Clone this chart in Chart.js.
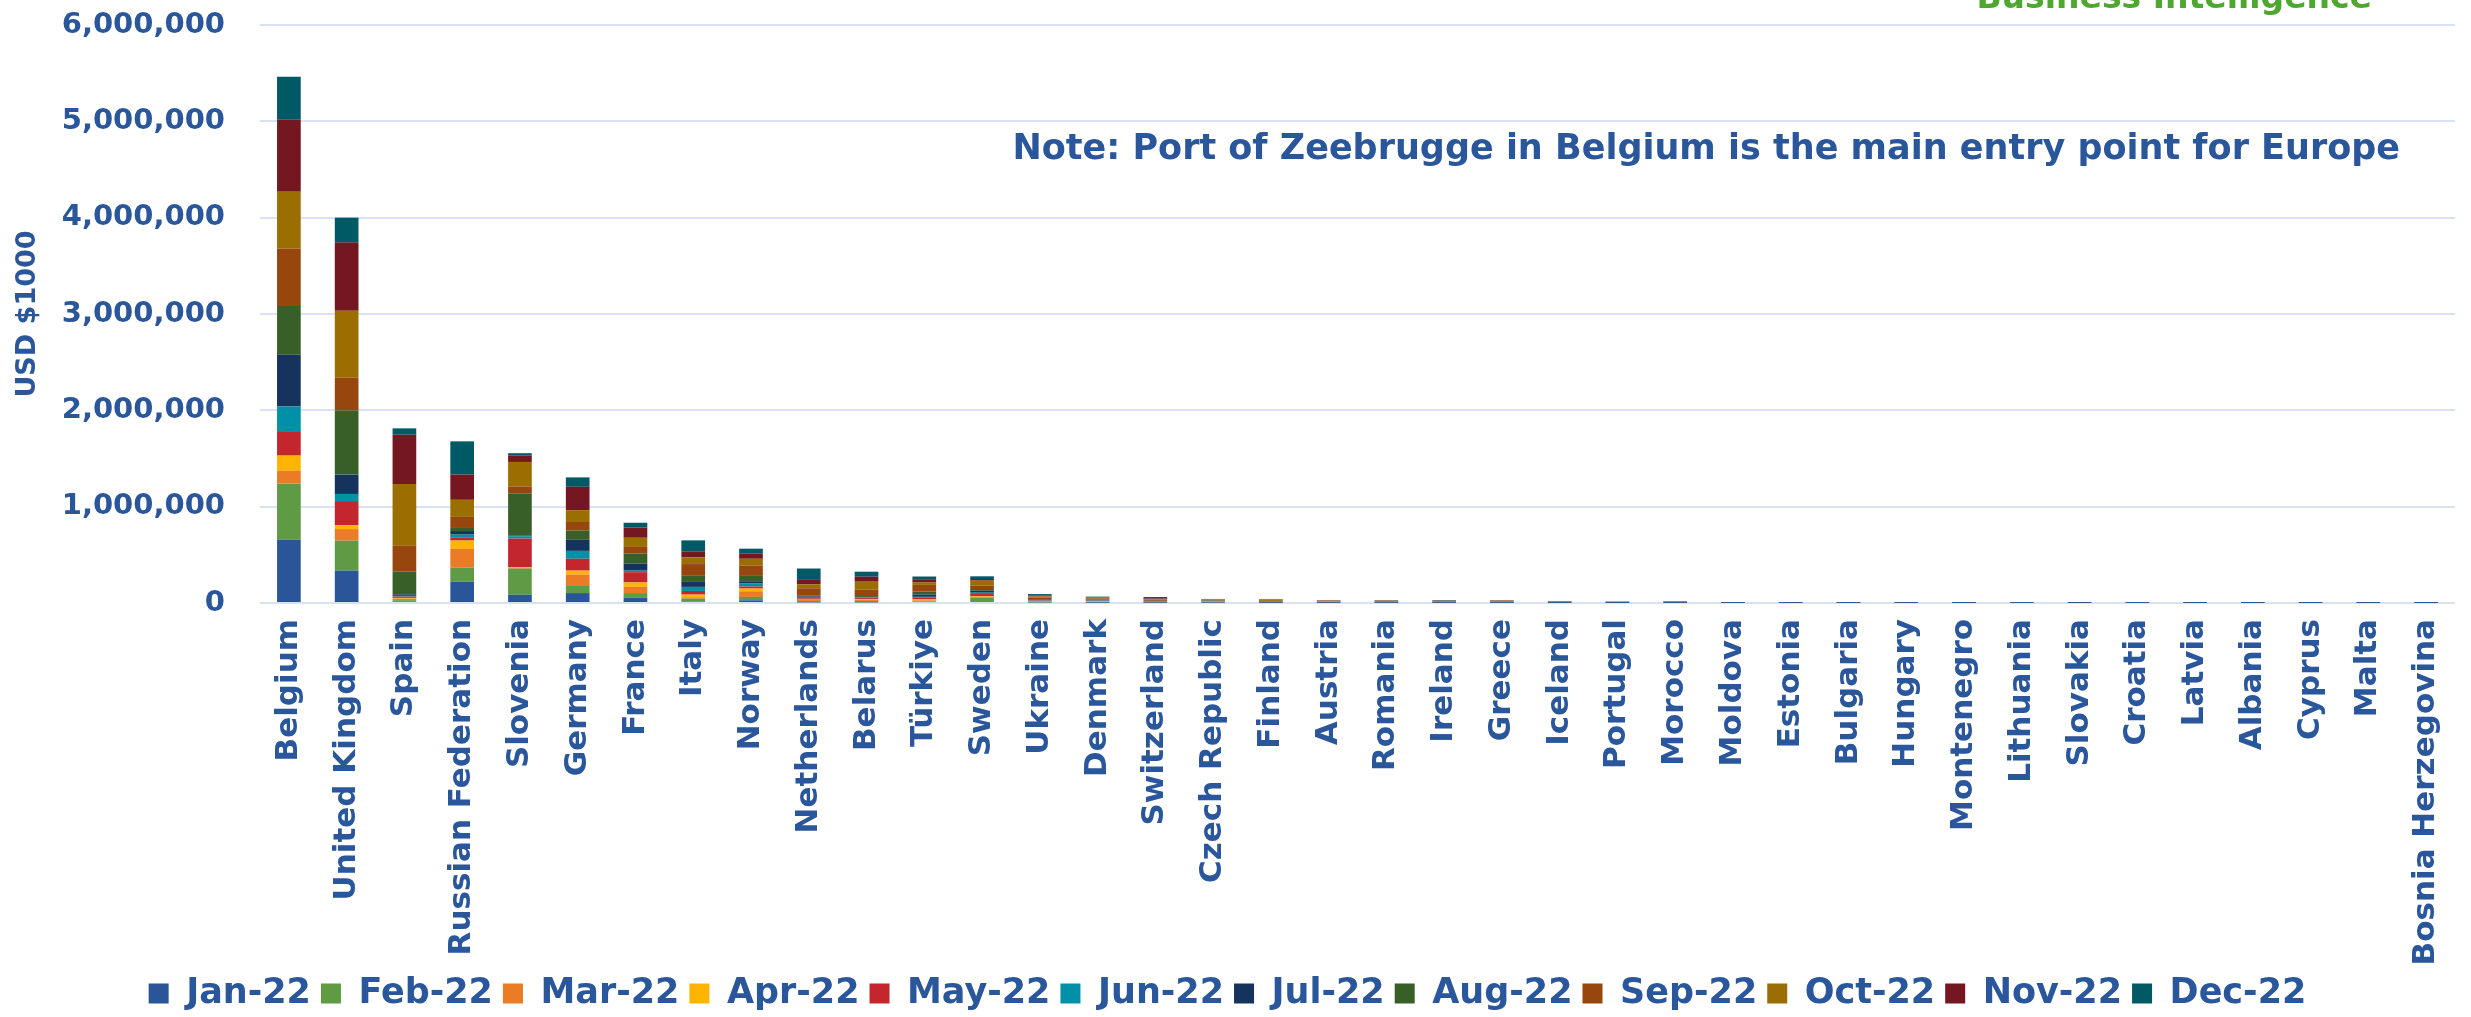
<!DOCTYPE html>
<html>
<head>
<meta charset="utf-8">
<script src="https://cdn.jsdelivr.net/npm/chart.js@4.4.1/dist/chart.umd.min.js"></script>
<style>
  html, body { margin: 0; padding: 0; background: #fff; }
  #wrap { width: 2471px; height: 1017px; position: relative; }
</style>
</head>
<body>
<div id="wrap"><canvas id="chart"></canvas></div>
<script>
// USD $1000, 2022 monthly imports by country
const countries = ["Belgium", "United Kingdom", "Spain", "Russian Federation", "Slovenia", "Germany", "France", "Italy", "Norway", "Netherlands", "Belarus", "Türkiye", "Sweden", "Ukraine", "Denmark", "Switzerland", "Czech Republic", "Finland", "Austria", "Romania", "Ireland", "Greece", "Iceland", "Portugal", "Morocco", "Moldova", "Estonia", "Bulgaria", "Hungary", "Montenegro", "Lithuania", "Slovakia", "Croatia", "Latvia", "Albania", "Cyprus", "Malta", "Bosnia Herzegovina"];
const months = ["Jan-22", "Feb-22", "Mar-22", "Apr-22", "May-22", "Jun-22", "Jul-22", "Aug-22", "Sep-22", "Oct-22", "Nov-22", "Dec-22"];

const jan = [656000, 336000, 12000, 221000, 86000, 103000, 57000, 14000, 28000, 7000, 7000, 10000, 17000, 6000, 4000, 3000, 4000, 2000, 2000, 2000, 2000, 2000, 1000, 1000, 1000, 1000, 500, 1000, 1000, 500, 1000, 500, 300, 100, 100, 50, 30, 20];
const feb = [583000, 312000, 17000, 148000, 271000, 82000, 46000, 31000, 35000, 14000, 14000, 7000, 38000, 5000, 5000, 3000, 3000, 2000, 3000, 3000, 2000, 2000, 2000, 1000, 2000, 1000, 1000, 1000, 1000, 1000, 1000, 500, 200, 200, 100, 50, 30, 20];
const mar = [135000, 119000, 16000, 193000, 8000, 110000, 65000, 14000, 59000, 10000, 10000, 10000, 10000, 3000, 6000, 3000, 4000, 2000, 5000, 2000, 2000, 2000, 1000, 2000, 2000, 1000, 1000, 500, 1000, 500, 500, 500, 200, 100, 100, 50, 30, 20];
const apr = [156000, 41000, 8000, 86000, 8000, 41000, 45000, 28000, 28000, 4000, 10000, 10000, 7000, 2000, 3000, 2000, 2000, 1000, 2000, 1000, 1000, 1000, 1000, 1000, 1000, 500, 500, 500, 500, 500, 500, 500, 100, 100, 100, 50, 30, 20];
const may = [254000, 250000, 13000, 29000, 296000, 123000, 107000, 38000, 21000, 14000, 10000, 17000, 21000, 8000, 5000, 3000, 3000, 2000, 2000, 2000, 5000, 2000, 1000, 1000, 2000, 500, 1000, 1000, 1000, 1000, 500, 1000, 200, 200, 100, 50, 30, 20];
const jun = [255000, 74000, 8000, 33000, 24000, 82000, 16000, 42000, 31000, 14000, 7000, 10000, 14000, 4000, 4000, 2000, 3000, 2000, 1000, 4000, 2000, 6000, 2000, 1000, 1000, 500, 500, 500, 500, 500, 500, 500, 200, 100, 100, 50, 30, 20];
const jul = [537000, 201000, 16000, 37000, 8000, 115000, 74000, 52000, 24000, 7000, 4000, 24000, 21000, 5000, 6000, 3000, 3000, 2000, 2000, 2000, 2000, 2000, 2000, 1000, 2000, 1000, 1000, 1000, 500, 1000, 1000, 500, 200, 200, 100, 50, 30, 20];
const aug = [508000, 665000, 238000, 32000, 435000, 95000, 103000, 63000, 63000, 10000, 10000, 31000, 17000, 8000, 5000, 4000, 4000, 3000, 2000, 6000, 2000, 4000, 3000, 1000, 2000, 1000, 1000, 1000, 1000, 1000, 1000, 1000, 300, 200, 100, 50, 30, 20];
const sep = [595000, 340000, 267000, 115000, 74000, 90000, 69000, 122000, 101000, 73000, 66000, 69000, 38000, 14000, 10000, 12000, 4000, 6000, 5000, 3000, 3000, 3000, 2000, 3000, 2000, 1000, 1000, 1000, 1000, 1000, 1000, 1000, 200, 200, 100, 50, 30, 20];
const oct = [591000, 697000, 640000, 177000, 254000, 123000, 95000, 69000, 69000, 42000, 83000, 24000, 49000, 12000, 7000, 5000, 5000, 14000, 3000, 3000, 2000, 3000, 3000, 2000, 3000, 1000, 1000, 1000, 1000, 1000, 1000, 1000, 200, 200, 100, 50, 30, 20];
const nov = [746000, 706000, 512000, 262000, 66000, 242000, 106000, 59000, 56000, 45000, 52000, 35000, 17000, 11000, 6000, 8000, 3000, 3000, 2000, 2000, 2000, 2000, 2000, 2000, 2000, 1000, 1000, 1000, 1000, 500, 500, 500, 200, 100, 100, 50, 30, 20];
const dec = [447000, 259000, 66000, 345000, 25000, 98000, 50000, 118000, 49000, 118000, 52000, 28000, 28000, 15000, 5000, 14000, 4000, 3000, 2000, 1000, 6000, 2000, 1000, 1000, 1000, 500, 500, 500, 500, 500, 500, 500, 100, 100, 100, 50, 30, 20];

const yTicks = [0, 1000000, 2000000, 3000000, 4000000, 5000000, 6000000];

const monthColors = ["#2a5699", "#5e9b44", "#ec7b25", "#ffb400", "#c4262e", "#0091a9", "#16335d", "#385f28", "#97460d", "#9a6e00", "#741720", "#005a66"];
const series = [jan, feb, mar, apr, may, jun, jul, aug, sep, oct, nov, dec];

const BLUE = "#2a569b";
const FONT = "'DejaVu Sans', sans-serif";
const PAD_TOP = 25;
const PAD_BOTTOM = -4;
const PLOT_H = 578;

const notes = {
    id: "notes",
    afterDraw(chart) {
        const ctx = chart.ctx;
        ctx.save();
        ctx.font = "bold 35px " + FONT;
        ctx.fillStyle = BLUE;
        ctx.textAlign = "right";
        ctx.textBaseline = "middle";
        ctx.fillText("Note: Port of Zeebrugge in Belgium is the main entry point for Europe", 2400, 150);
        ctx.font = "bold 33px " + FONT;
        ctx.fillStyle = "#4ea72e";
        ctx.textBaseline = "alphabetic";
        ctx.fillText("Business Intelligence", 2372, 8);
        ctx.restore();
    }
};

const bg = {
    id: "bg",
    beforeDraw(chart) {
        const ctx = chart.ctx;
        ctx.save();
        ctx.fillStyle = "#fff";
        ctx.fillRect(0, 0, chart.width, chart.height);
        ctx.restore();
    }
};

new Chart(document.getElementById("chart"), {
    type: "bar",
    data: {
        labels: countries,
        datasets: series.map((d, i) => ({
            label: months[i],
            data: d,
            backgroundColor: monthColors[i],
            borderWidth: 0,
            categoryPercentage: 1,
            barPercentage: 0.41
        }))
    },
    options: {
        responsive: true,
        maintainAspectRatio: false,
        animation: false,
        layout: { padding: { top: PAD_TOP, right: 16, left: 0, bottom: PAD_BOTTOM } },
        plugins: {
            legend: {
                position: "bottom",
                labels: {
                    color: BLUE,
                    font: { family: FONT, size: 35, weight: "bold" },
                    boxWidth: 20,
                    boxHeight: 20,
                    padding: 10
                }
            },
            tooltip: { enabled: false }
        },
        scales: {
            x: {
                stacked: true,
                grid: { display: false },
                border: { display: false },
                ticks: {
                    color: BLUE,
                    font: { family: FONT, size: 31, weight: "bold" },
                    minRotation: 90,
                    maxRotation: 90,
                    autoSkip: false,
                    padding: 8
                },
                afterFit(scale) {
                    const lh = scale.chart.legend ? scale.chart.legend.height : 0;
                    scale.height = (1017 - PAD_TOP - PAD_BOTTOM) - PLOT_H - lh;
                    scale.paddingLeft = 0;
                    scale.paddingRight = 0;
                }
            },
            y: {
                stacked: true,
                min: 0,
                max: 6000000,
                afterBuildTicks(scale) {
                    scale.ticks = yTicks.map(v => ({ value: v }));
                },
                grid: { color: "#d9e2f3", lineWidth: 2, drawTicks: false },
                border: { display: false },
                ticks: {
                    color: BLUE,
                    font: { family: FONT, size: 29, weight: "bold" },
                    padding: 35,
                    callback: v => v.toLocaleString("en-US")
                },
                title: {
                    display: true,
                    text: "USD $1000",
                    color: BLUE,
                    font: { family: FONT, size: 27, weight: "bold" },
                    padding: { top: 12, bottom: 0 }
                },
                afterFit(scale) {
                    scale.width = 260;
                    scale.paddingTop = 0;
                    scale.paddingBottom = 0;
                }
            }
        }
    },
    plugins: [bg, notes]
});
</script>
</body>
</html>
